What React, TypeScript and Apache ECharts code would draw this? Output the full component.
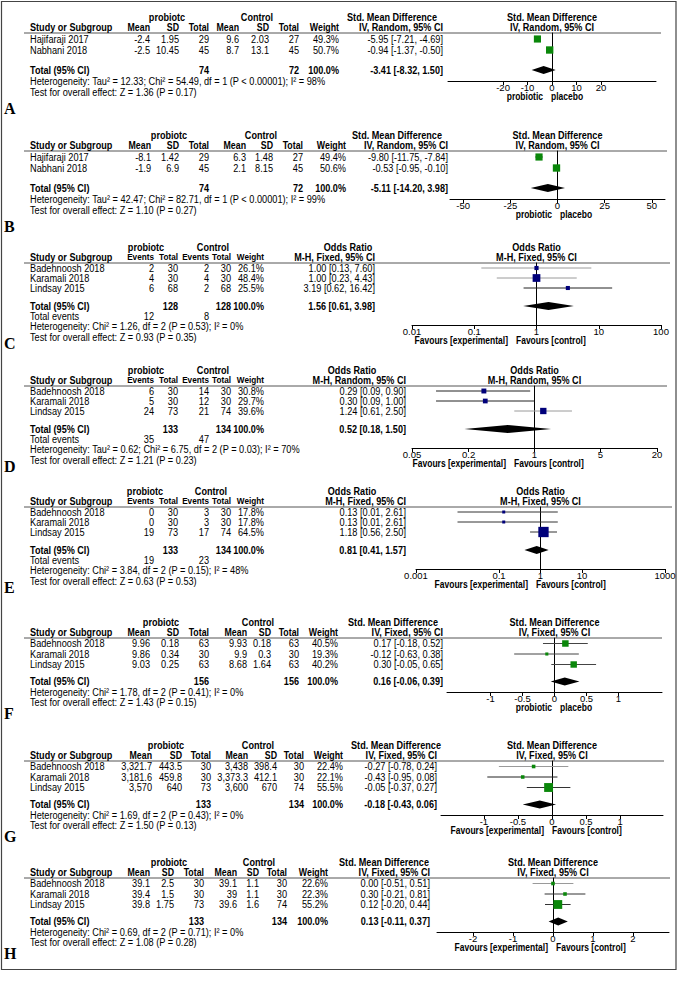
import React, { useEffect, useRef } from "react";
import * as echarts from "echarts";

// ---------------- DATA ----------------
const studies2 = ["Hajifaraji 2017", "Nabhani 2018"];
const studies3 = ["Badehnoosh 2018", "Karamali 2018", "Lindsay 2015"];

// A
const probMeanA = [-2.4, -2.5];
const probSdA = [1.95, 10.45];
const probNA = [29, 45];
const ctrlMeanA = [9.6, 8.7];
const ctrlSdA = [2.03, 13.1];
const ctrlNA = [27, 45];
const weightA = [49.3, 50.7];
const estA = [-5.95, -0.94];
const loA = [-7.21, -1.37];
const hiA = [-4.69, -0.5];
const totalA = [-3.41, -8.32, 1.5];
const totalNA = [74, 72];
const hetA = "Heterogeneity: Tau² = 12.33; Chi² = 54.49, df = 1 (P < 0.00001); I² = 98%";
const testA = "Test for overall effect: Z = 1.36 (P = 0.17)";
const ticksA = [-20, -10, 0, 10, 20];

// B
const probMeanB = [-8.1, -1.9];
const probSdB = [1.42, 6.9];
const probNB = [29, 45];
const ctrlMeanB = [6.3, 2.1];
const ctrlSdB = [1.48, 8.15];
const ctrlNB = [27, 45];
const weightB = [49.4, 50.6];
const estB = [-9.8, -0.53];
const loB = [-11.75, -0.95];
const hiB = [-7.84, -0.1];
const totalB = [-5.11, -14.2, 3.98];
const totalNB = [74, 72];
const hetB = "Heterogeneity: Tau² = 42.47; Chi² = 82.71, df = 1 (P < 0.00001); I² = 99%";
const testB = "Test for overall effect: Z = 1.10 (P = 0.27)";
const ticksB = [-50, -25, 0, 25, 50];

// C
const probEvC = [2, 4, 6];
const probNC = [30, 30, 68];
const ctrlEvC = [2, 4, 2];
const ctrlNC = [30, 30, 68];
const weightC = [26.1, 48.4, 25.5];
const estC = [1.0, 1.0, 3.19];
const loC = [0.13, 0.23, 0.62];
const hiC = [7.6, 4.43, 16.42];
const totalC = [1.56, 0.61, 3.98];
const totalNC = [128, 128];
const eventsC = [12, 8];
const hetC = "Heterogeneity: Chi² = 1.26, df = 2 (P = 0.53); I² = 0%";
const testC = "Test for overall effect: Z = 0.93 (P = 0.35)";
const ticksC = [0.01, 0.1, 1, 10, 100];

// D
const probEvD = [6, 5, 24];
const probND = [30, 30, 73];
const ctrlEvD = [14, 12, 21];
const ctrlND = [30, 30, 74];
const weightD = [30.8, 29.7, 39.6];
const estD = [0.29, 0.3, 1.24];
const loD = [0.09, 0.09, 0.61];
const hiD = [0.9, 1.0, 2.5];
const totalD = [0.52, 0.18, 1.5];
const totalND = [133, 134];
const eventsD = [35, 47];
const hetD = "Heterogeneity: Tau² = 0.62; Chi² = 6.75, df = 2 (P = 0.03); I² = 70%";
const testD = "Test for overall effect: Z = 1.21 (P = 0.23)";
const ticksD = [0.05, 0.2, 1, 5, 20];

// E
const probEvE = [0, 0, 19];
const probNE = [30, 30, 73];
const ctrlEvE = [3, 3, 17];
const ctrlNE = [30, 30, 74];
const weightE = [17.8, 17.8, 64.5];
const estE = [0.13, 0.13, 1.18];
const loE = [0.01, 0.01, 0.56];
const hiE = [2.61, 2.61, 2.5];
const totalE = [0.81, 0.41, 1.57];
const totalNE = [133, 134];
const eventsE = [19, 23];
const hetE = "Heterogeneity: Chi² = 3.84, df = 2 (P = 0.15); I² = 48%";
const testE = "Test for overall effect: Z = 0.63 (P = 0.53)";
const ticksE = [0.001, 0.1, 1, 10, 1000];

// F
const probMeanF = [9.96, 9.86, 9.03];
const probSdF = [0.18, 0.34, 0.25];
const probNF = [63, 30, 63];
const ctrlMeanF = [9.93, 9.9, 8.68];
const ctrlSdF = [0.18, 0.3, 1.64];
const ctrlNF = [63, 30, 63];
const weightF = [40.5, 19.3, 40.2];
const estF = [0.17, -0.12, 0.3];
const loF = [-0.18, -0.63, -0.05];
const hiF = [0.52, 0.38, 0.65];
const totalF = [0.16, -0.06, 0.39];
const totalNF = [156, 156];
const hetF = "Heterogeneity: Chi² = 1.78, df = 2 (P = 0.41); I² = 0%";
const testF = "Test for overall effect: Z = 1.43 (P = 0.15)";
const ticksF = [-1, -0.5, 0, 0.5, 1];

// G
const probMeanG = [3321.7, 3181.6, 3570];
const probSdG = [443.5, 459.8, 640];
const probNG = [30, 30, 73];
const ctrlMeanG = [3438, 3373.3, 3600];
const ctrlSdG = [398.4, 412.1, 670];
const ctrlNG = [30, 30, 74];
const weightG = [22.4, 22.1, 55.5];
const estG = [-0.27, -0.43, -0.05];
const loG = [-0.78, -0.95, -0.37];
const hiG = [0.24, 0.08, 0.27];
const totalG = [-0.18, -0.43, 0.06];
const totalNG = [133, 134];
const hetG = "Heterogeneity: Chi² = 1.69, df = 2 (P = 0.43); I² = 0%";
const testG = "Test for overall effect: Z = 1.50 (P = 0.13)";
const ticksG = [-1, -0.5, 0, 0.5, 1];

// H
const probMeanH = [39.1, 39.4, 39.8];
const probSdH = [2.5, 1.5, 1.75];
const probNH = [30, 30, 73];
const ctrlMeanH = [39.1, 39, 39.6];
const ctrlSdH = [1.1, 1.1, 1.6];
const ctrlNH = [30, 30, 74];
const weightH = [22.6, 22.3, 55.2];
const estH = [0.0, 0.3, 0.12];
const loH = [-0.51, -0.21, -0.2];
const hiH = [0.51, 0.81, 0.44];
const totalH = [0.13, -0.11, 0.37];
const totalNH = [133, 134];
const hetH = "Heterogeneity: Chi² = 0.69, df = 2 (P = 0.71); I² = 0%";
const testH = "Test for overall effect: Z = 1.08 (P = 0.28)";
const ticksH = [-2, -1, 0, 1, 2];

const namesPlacebo = ["probiotic", "placebo"];
const namesFavours = ["Favours [experimental]", "Favours [control]"];

// ---------------- PANEL DEFINITIONS ----------------
type Panel = {
  letter: string;
  kind: "mean" | "events";
  measure: string;
  model: string;
  studies: string[];
  cells: number[][];
  weight: number[];
  est: number[];
  lo: number[];
  hi: number[];
  total: number[];
  totalN: number[];
  events?: number[];
  het: string;
  test: string;
  ticks: number[];
  names: string[];
  log: boolean;
};

const panels: Panel[] = [
  { letter: "A", kind: "mean", measure: "Std. Mean Difference", model: "IV, Random, 95% CI", studies: studies2,
    cells: [probMeanA, probSdA, probNA, ctrlMeanA, ctrlSdA, ctrlNA], weight: weightA, est: estA, lo: loA, hi: hiA,
    total: totalA, totalN: totalNA, het: hetA, test: testA, ticks: ticksA, names: namesPlacebo, log: false },
  { letter: "B", kind: "mean", measure: "Std. Mean Difference", model: "IV, Random, 95% CI", studies: studies2,
    cells: [probMeanB, probSdB, probNB, ctrlMeanB, ctrlSdB, ctrlNB], weight: weightB, est: estB, lo: loB, hi: hiB,
    total: totalB, totalN: totalNB, het: hetB, test: testB, ticks: ticksB, names: namesPlacebo, log: false },
  { letter: "C", kind: "events", measure: "Odds Ratio", model: "M-H, Fixed, 95% CI", studies: studies3,
    cells: [probEvC, probNC, ctrlEvC, ctrlNC], weight: weightC, est: estC, lo: loC, hi: hiC,
    total: totalC, totalN: totalNC, events: eventsC, het: hetC, test: testC, ticks: ticksC, names: namesFavours, log: true },
  { letter: "D", kind: "events", measure: "Odds Ratio", model: "M-H, Random, 95% CI", studies: studies3,
    cells: [probEvD, probND, ctrlEvD, ctrlND], weight: weightD, est: estD, lo: loD, hi: hiD,
    total: totalD, totalN: totalND, events: eventsD, het: hetD, test: testD, ticks: ticksD, names: namesFavours, log: true },
  { letter: "E", kind: "events", measure: "Odds Ratio", model: "M-H, Fixed, 95% CI", studies: studies3,
    cells: [probEvE, probNE, ctrlEvE, ctrlNE], weight: weightE, est: estE, lo: loE, hi: hiE,
    total: totalE, totalN: totalNE, events: eventsE, het: hetE, test: testE, ticks: ticksE, names: namesFavours, log: true },
  { letter: "F", kind: "mean", measure: "Std. Mean Difference", model: "IV, Fixed, 95% CI", studies: studies3,
    cells: [probMeanF, probSdF, probNF, ctrlMeanF, ctrlSdF, ctrlNF], weight: weightF, est: estF, lo: loF, hi: hiF,
    total: totalF, totalN: totalNF, het: hetF, test: testF, ticks: ticksF, names: namesPlacebo, log: false },
  { letter: "G", kind: "mean", measure: "Std. Mean Difference", model: "IV, Fixed, 95% CI", studies: studies3,
    cells: [probMeanG, probSdG, probNG, ctrlMeanG, ctrlSdG, ctrlNG], weight: weightG, est: estG, lo: loG, hi: hiG,
    total: totalG, totalN: totalNG, het: hetG, test: testG, ticks: ticksG, names: namesFavours, log: false },
  { letter: "H", kind: "mean", measure: "Std. Mean Difference", model: "IV, Fixed, 95% CI", studies: studies3,
    cells: [probMeanH, probSdH, probNH, ctrlMeanH, ctrlSdH, ctrlNH], weight: weightH, est: estH, lo: loH, hi: hiH,
    total: totalH, totalN: totalNH, het: hetH, test: testH, ticks: ticksH, names: namesFavours, log: false },
];

// ---------------- LAYOUT / STYLE ----------------
type Layout = {
  R: number; grid: [number, number]; range: [number, number]; cols: number[]; heads: number[];
  gap: number; rule: number; k: number; ciColors: string[];
};
const GR = "#9a9a9a";
const DK = "#222";
const layouts: Layout[] = [
  { R: 33, grid: [448, 656], range: [-42.5, 42.5], cols: [150, 179, 209, 239, 269, 299, 339, 443], heads: [167, 257, 392], gap: 547, rule: 661, k: 0.145, ciColors: [DK, DK] },
  { R: 151, grid: [450, 665], range: [-57, 57], cols: [151, 179, 209, 246, 273, 303, 346, 448], heads: [169, 261, 397], gap: 556, rule: 667, k: 0.145, ciColors: [DK, DK] },
  { R: 263, grid: [412, 661], range: [0.01, 100], cols: [154, 178, 209, 231, 264, 375], heads: [146, 213, 348], gap: 512, rule: 670, k: 0.16, ciColors: [GR, GR, DK] },
  { R: 386, grid: [412, 657], range: [0.05, 20], cols: [154, 178, 209, 231, 264, 406], heads: [146, 213, 352], gap: 510, rule: 667, k: 0.16, ciColors: [DK, DK, GR] },
  { R: 507, grid: [416, 665], range: [0.001, 1000], cols: [154, 178, 209, 231, 264, 406], heads: [145, 211, 352], gap: 532, rule: 672, k: 0.16, ciColors: ["#333", "#333", "#333"] },
  { R: 638, grid: [447, 662], range: [-1.68, 1.68], cols: [150, 179, 209, 247, 271, 299, 338, 443], heads: [161, 258, 393], gap: 556, rule: 662, k: 0.16, ciColors: ["#444", "#444", "#444"] },
  { R: 761, grid: [441, 663], range: [-1.63, 1.63], cols: [152, 182, 211, 248, 277, 304, 343, 437], heads: [166, 258, 396], gap: 548, rule: 664, k: 0.16, ciColors: [GR, DK, "#333"] },
  { R: 878, grid: [437, 669], range: [-2.9, 2.9], cols: [150, 174, 204, 237, 259, 287, 328, 430], heads: [169, 259, 384], gap: 552, rule: 670, k: 0.16, ciColors: [GR, "#333", "#333"] },
];

const SANS = "'Liberation Sans', Arial, sans-serif";
const SERIF = "'Liberation Serif', 'Times New Roman', serif";
const SX = 0.85; // horizontal squeeze of the table text
const BODY = 9.2; // effective horizontal size
const HEAD = 9.1;
const GREEN = "#0a870a";
const NAVY = "#00007a";

function fmt(n: number) {
  return n.toLocaleString("en-US", { maximumFractionDigits: 2 });
}
function ciText(e: number, l: number, h: number) {
  return `${e.toFixed(2)} [${l.toFixed(2)}, ${h.toFixed(2)}]`;
}
function T(text: string, x: number, y: number, align = "left", bold = false, eff = BODY) {
  return {
    type: "text", x, y, scaleX: SX, silent: true, z: 10,
    style: {
      text, fill: "#000", fontSize: eff / SX, fontWeight: bold ? "bold" : "normal", fontFamily: SANS,
      textAlign: align, align, textVerticalAlign: "middle", verticalAlign: "middle",
    },
  };
}

function rowOffsets(p: Panel) {
  const n = p.studies.length;
  if (n === 2) return { rows: [6, 17], total: 37, events: 0, het: 48, test: 59, axis: 48, letter: 75 };
  if (p.kind === "events") return { rows: [5, 15, 25], total: 43, events: 53, het: 63, test: 74, axis: 62, letter: 80 };
  return { rows: [5.5, 16, 26.5], total: 43.5, events: 0, het: 54.5, test: 64.5, axis: 54, letter: 75 };
}

function buildOption() {
  const graphic: any[] = [];
  const grid: any[] = [];
  const xAxis: any[] = [];
  const yAxis: any[] = [];
  const series: any[] = [];

  graphic.push({ type: "rect", silent: true, shape: { x: 1.5, y: 1.5, width: 674.5, height: 968 }, style: { fill: "none", stroke: "#444", lineWidth: 1.2 } });

  panels.forEach((p, i) => {
    const L = layouts[i];
    const off = rowOffsets(p);
    const R = L.R;
    const tx = (v: number) => (p.log ? Math.log10(v) : v);
    const plotCenter = (L.grid[0] + L.grid[1]) / 2;
    const colEff = p.kind === "mean" ? 8.8 : 8.2;

    const h1 = R - 16;
    const h2 = R - 6;
    graphic.push(T("probiotc", L.heads[0], h1, "center", true, HEAD));
    graphic.push(T("Control", L.heads[1], h1, "center", true, HEAD));
    graphic.push(T(p.measure, L.heads[2], h1, "center", true, HEAD));
    graphic.push(T(p.measure, plotCenter, h1, "center", true, HEAD));
    graphic.push(T("Study or Subgroup", 30, h2, "left", true, HEAD));
    const colNames = p.kind === "mean" ? ["Mean", "SD", "Total", "Mean", "SD", "Total", "Weight"] : ["Events", "Total", "Events", "Total", "Weight"];
    colNames.forEach((c, j) => graphic.push(T(c, L.cols[j], h2, "right", true, colEff)));
    graphic.push(T(p.model, L.cols[L.cols.length - 1], h2, "right", true, HEAD));
    graphic.push(T(p.model, plotCenter, h2, "center", true, HEAD));

    graphic.push({ type: "line", silent: true, shape: { x1: 24, y1: R, x2: L.rule, y2: R }, style: { stroke: "#555", lineWidth: 1 } });

    p.studies.forEach((s, r) => {
      const y = R + off.rows[r];
      graphic.push(T(s, 30, y));
      p.cells.forEach((col, j) => graphic.push(T(fmt(col[r]), L.cols[j], y, "right")));
      graphic.push(T(p.weight[r].toFixed(1) + "%", L.cols[p.cells.length], y, "right"));
      graphic.push(T(ciText(p.est[r], p.lo[r], p.hi[r]), L.cols[p.cells.length + 1], y, "right"));
    });

    const yT = R + off.total;
    const nCol = p.kind === "mean" ? [2, 5] : [1, 3];
    graphic.push(T("Total (95% CI)", 30, yT, "left", true, HEAD));
    graphic.push(T(String(p.totalN[0]), L.cols[nCol[0]], yT, "right", true, HEAD));
    graphic.push(T(String(p.totalN[1]), L.cols[nCol[1]], yT, "right", true, HEAD));
    graphic.push(T("100.0%", L.cols[p.cells.length], yT, "right", true, HEAD));
    graphic.push(T(ciText(p.total[0], p.total[1], p.total[2]), L.cols[p.cells.length + 1], yT, "right", true, HEAD));
    if (p.events) {
      const yE = R + off.events;
      graphic.push(T("Total events", 30, yE));
      graphic.push(T(String(p.events[0]), L.cols[0], yE, "right"));
      graphic.push(T(String(p.events[1]), L.cols[2], yE, "right"));
    }
    graphic.push(T(p.het, 30, R + off.het));
    graphic.push(T(p.test, 30, R + off.test));
    graphic.push({
      type: "text", x: 4, y: R + off.letter, silent: true, z: 10,
      style: { text: p.letter, fill: "#000", fontSize: 16, fontWeight: "bold", fontFamily: SERIF,
        textAlign: "left", align: "left", textVerticalAlign: "middle", verticalAlign: "middle" },
    });

    const yN = R + off.axis + 16;
    graphic.push(T(p.names[0], L.gap - 4, yN, "right", true, 8.5));
    graphic.push(T(p.names[1], L.gap + 4, yN, "left", true, 8.5));

    const tickVals = p.ticks.map(tx);
    grid.push({ left: L.grid[0], top: R, width: L.grid[1] - L.grid[0], height: off.axis, containLabel: false, outerBoundsMode: "none" });
    xAxis.push({
      gridIndex: i, type: "value", min: tx(L.range[0]), max: tx(L.range[1]),
      axisLine: { show: true, onZero: false, lineStyle: { color: "#000", width: 1 } },
      axisTick: { show: true, customValues: tickVals, length: 4, lineStyle: { color: "#000", width: 1 } },
      axisLabel: {
        show: true, customValues: tickVals, margin: 1, fontSize: 9.5, fontFamily: SANS, color: "#000",
        formatter: (v: number) => {
          let best = p.ticks[0];
          p.ticks.forEach((t) => { if (Math.abs(tx(t) - v) < Math.abs(tx(best) - v)) best = t; });
          return String(best);
        },
      },
      splitLine: { show: false },
    });
    yAxis.push({
      gridIndex: i, type: "value", min: 0, max: off.axis, inverse: true,
      axisLine: { show: true, onZero: true, lineStyle: { color: "#000", width: 1 } },
      axisTick: { show: false }, axisLabel: { show: false }, splitLine: { show: false },
    });

    const marker = p.log ? NAVY : GREEN;
    const rowData = p.studies.map((_, r) => [tx(p.lo[r]), tx(p.hi[r]), tx(p.est[r]), off.rows[r], p.weight[r]]);
    series.push({
      type: "custom", xAxisIndex: i, yAxisIndex: i, clip: false, silent: true, z: 3,
      data: rowData,
      renderItem: (params: any, api: any) => {
        const lo = api.value(0), hi = api.value(1), est = api.value(2), y = api.value(3), w = api.value(4);
        const a = api.coord([lo, y]);
        const b = api.coord([hi, y]);
        const c = api.coord([est, y]);
        const sz = Math.max(3, w * L.k);
        return {
          type: "group",
          children: [
            { type: "line", shape: { x1: a[0], y1: a[1], x2: b[0], y2: b[1] }, style: { stroke: L.ciColors[params.dataIndex], lineWidth: 1 } },
            { type: "rect", shape: { x: c[0] - sz / 2, y: c[1] - sz / 2, width: sz, height: sz }, style: { fill: marker } },
          ],
        };
      },
    });
    series.push({
      type: "custom", xAxisIndex: i, yAxisIndex: i, clip: false, silent: true, z: 4,
      data: [[tx(p.total[1]), tx(p.total[2]), tx(p.total[0]), off.total]],
      renderItem: (_params: any, api: any) => {
        const lo = api.coord([api.value(0), api.value(3)]);
        const hi = api.coord([api.value(1), api.value(3)]);
        const e = api.coord([api.value(2), api.value(3)]);
        const h = 4;
        return {
          type: "polygon",
          shape: { points: [[lo[0], lo[1]], [e[0], e[1] - h], [hi[0], hi[1]], [e[0], e[1] + h]] },
          style: { fill: "#000" },
        };
      },
    });
  });

  return { animation: false, backgroundColor: "#fff", grid, xAxis, yAxis, series, graphic: { elements: graphic } };
}

export default function App() {
  const ref = useRef<HTMLDivElement>(null);
  useEffect(() => {
    const chart = echarts.init(ref.current!, null, { renderer: "svg" });
    chart.setOption(buildOption() as any);
    return () => chart.dispose();
  }, []);
  return (
    <div
      ref={ref}
      style={{ position: "fixed", left: 0, top: 0, width: 681, height: 990, background: "#fff" }}
    />
  );
}
